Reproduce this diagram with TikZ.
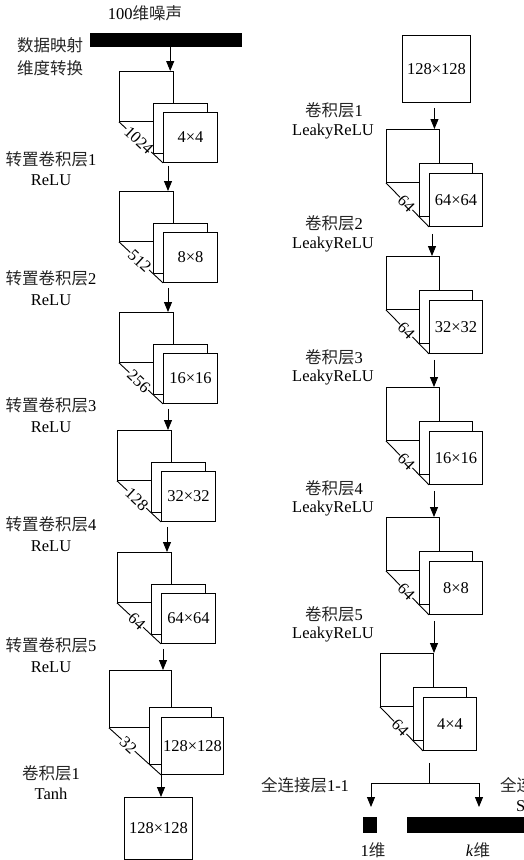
\documentclass[tikz,border=0pt]{standalone}
\usepackage{fontspec}
\setmainfont{Liberation Serif}
\newfontfamily\cjk{Noto Sans CJK SC}
\usetikzlibrary{arrows.meta,backgrounds}
\newcommand{\fs}{\fontsize{16.5}{19}\selectfont}
\newcommand{\zh}[1]{{\cjk\color{black!85}#1}}
\tikzset{
  sq/.style={draw, line width=0.9pt, fill=white, inner sep=0pt, font=\fs},
  ln/.style={line width=0.9pt},
  arr/.style={line width=0.9pt, -{Triangle[width=8pt,length=10pt]}},
  dep/.style={sloped, fill=white, inner sep=0.4pt, font=\fs},
  txt/.style={inner sep=0pt, font=\fs},
}
\newcommand{\fmap}[6]{%
  \node[sq, anchor=north west, minimum width=\W, minimum height=\H] (#1b) at (#2,#3) {};
  \node[sq, anchor=north west, minimum width=\W, minimum height=\H] (#1m) at ({#2+\dxa},{#3+\dya}) {};
  \node[sq, anchor=north west, minimum width=\W, minimum height=\H] (#1f) at ({#2+\dxb},{#3+\dyb}) {#4};
  \begin{pgfonlayer}{background}
    \draw[ln] (#1b.south west) -- (#1f.south west) node[dep, pos=#6] {#5};
  \end{pgfonlayer}
}
\newcommand{\conn}[4]{\draw[arr] ([xshift=#3pt,yshift=-#4pt]#1f.south west) -- ([xshift=#3pt]#1f.south west |- #2b.north);}
\begin{document}
\begin{tikzpicture}[x=1pt,y=-1pt]
\useasboundingbox (0,0) rectangle (523,860);

% ---------------- left column (generator) ----------------
\node[txt] (noise) at (145,13) {100\zh{维噪声}};
\node[fill=black, minimum width=152pt, minimum height=14pt, inner sep=0pt, anchor=north west] (bar) at (90,33) {};
\node[txt] (map1) at (50,45) {\zh{数据映射}};
\node[txt] (map2) at (50,68) {\zh{维度转换}};

\def\W{54pt}\def\H{50pt}\def\dxa{34}\def\dya{32}\def\dxb{44}\def\dyb{41}
\fmap{L1}{119}{71}{4×4}{1024}{0.45}
\fmap{L2}{119}{191}{8×8}{512}{0.47}
\fmap{L3}{119}{312}{16×16}{256}{0.45}
\fmap{L4}{117}{430}{32×32}{128}{0.45}
\fmap{L5}{117}{552}{64×64}{64}{0.45}
\def\W{62pt}\def\H{57pt}\def\dxa{40}\def\dya{37}\def\dxb{52}\def\dyb{47}
\fmap{L6}{109}{670}{128×128}{32}{0.37}
\node[sq, anchor=north west, minimum width=68pt, minimum height=62pt] (out) at (124,797) {128×128};

\draw[arr] ([xshift=4pt]bar.south) -- ([xshift=4pt]bar.south |- L1b.north);
\conn{L1}{L2}{5}{3}
\conn{L2}{L3}{5}{5}
\conn{L3}{L4}{5}{5}
\conn{L4}{L5}{6}{5}
\conn{L5}{L6}{2}{5}
\draw[arr] (L6f.south west) -- (L6f.south west |- out.north);

\node[txt] (g1a) at (51,159) {\zh{转置卷积层}1};
\node[txt] (g1b) at (51,180) {ReLU};
\node[txt] (g2a) at (51,278) {\zh{转置卷积层}2};
\node[txt] (g2b) at (51,300) {ReLU};
\node[txt] (g3a) at (51,405) {\zh{转置卷积层}3};
\node[txt] (g3b) at (51,427) {ReLU};
\node[txt] (g4a) at (51,524) {\zh{转置卷积层}4};
\node[txt] (g4b) at (51,546) {ReLU};
\node[txt] (g5a) at (51,645) {\zh{转置卷积层}5};
\node[txt] (g5b) at (51,667) {ReLU};
\node[txt] (g6a) at (51,773) {\zh{卷积层}1};
\node[txt] (g6b) at (51,794) {Tanh};

% ---------------- right column (discriminator) ----------------
\node[sq, anchor=north west, minimum width=68pt, minimum height=67pt] (in) at (402,35) {128×128};
\def\W{53pt}\def\H{53pt}\def\dxa{33}\def\dya{34}\def\dxb{43}\def\dyb{44}
\fmap{R1}{386}{129}{64×64}{64}{0.47}
\fmap{R2}{386}{256}{32×32}{64}{0.47}
\fmap{R3}{386}{387}{16×16}{64}{0.47}
\fmap{R4}{386}{517}{8×8}{64}{0.47}
\fmap{R5}{380}{653}{4×4}{64}{0.47}

\draw[arr] ([xshift=-2pt,yshift=-5pt]in.south) -- ([xshift=-2pt]in.south |- R1b.north);
\conn{R1}{R2}{3}{7}
\conn{R2}{R3}{5}{6}
\conn{R3}{R4}{5}{6}
\conn{R4}{R5}{5}{6}

\node[txt] (d1a) at (334,110) {\zh{卷积层}1};
\node[txt] (d1b) at (333,132) {LeakyReLU};
\node[txt] (d2a) at (334,223) {\zh{卷积层}2};
\node[txt] (d2b) at (333,245) {LeakyReLU};
\node[txt] (d3a) at (334,357) {\zh{卷积层}3};
\node[txt] (d3b) at (333,378) {LeakyReLU};
\node[txt] (d4a) at (334,488) {\zh{卷积层}4};
\node[txt] (d4b) at (333,509) {LeakyReLU};
\node[txt] (d5a) at (334,614) {\zh{卷积层}5};
\node[txt] (d5b) at (333,635) {LeakyReLU};

% fork to fully connected outputs
\coordinate (fk) at (429,783);
\coordinate (t1) at (371,807);
\coordinate (t2) at (479,807);
\draw[ln] ([xshift=6pt,yshift=-12pt]R5f.south west) -- (fk);
\draw[arr] (fk) -| (t1);
\draw[arr] (fk) -| (t2);
\node[fill=black, inner sep=0pt, minimum width=14pt, minimum height=16pt, anchor=north west] (fc1) at (363,817) {};
\node[fill=black, inner sep=0pt, minimum width=140pt, minimum height=16pt, anchor=north west] (fc2) at (407,817) {};
\node[txt] (f1) at (305,785) {\zh{全连接层}1-1};
\node[txt, anchor=west] (f2) at (500,785) {\zh{全连接层}1-2};
\node[txt, anchor=west] (f2b) at (516,806) {Softmax};
\node[txt] (o1) at (373,850) {1\zh{维}};
\node[txt] (o2) at (478,850) {\textit{k}\zh{维}};
\end{tikzpicture}
\end{document}
